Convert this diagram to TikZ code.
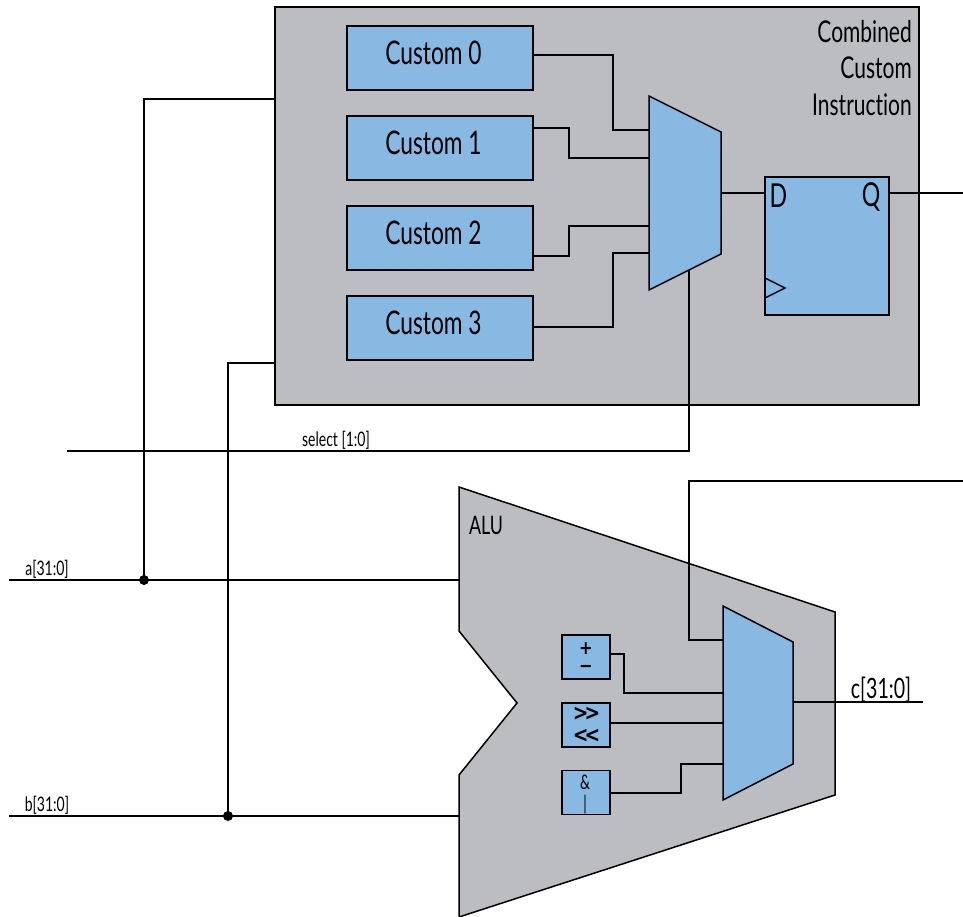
\documentclass[tikz,border=0pt]{standalone}
\usepackage{fontspec}
\setmainfont[FakeStretch=0.70,Ligatures=CommonOff]{Lato}
\newfontfamily\opsym[FakeStretch=0.85]{DejaVu Sans}
\definecolor{panelgray}{HTML}{BCBDC0}
\definecolor{partblue}{HTML}{88B9E3}
\tikzset{
  wire/.style={line width=1.5pt,black,line join=miter},
  panel/.style={draw=black,fill=panelgray,line width=1.5pt},
  part/.style={draw=black,fill=partblue,line width=1.5pt},
  custombox/.style={part,rectangle,minimum width=186pt,minimum height=64pt,inner sep=0pt,anchor=center},
  opbox/.style={part,rectangle,minimum width=48pt,minimum height=44pt,inner sep=0pt},
  lbl/.style={inner sep=0pt,font=\fontsize{30}{30}\selectfont},
  cust/.style={inner sep=0pt,font=\fontsize{32.5}{32.5}\selectfont},
  sml/.style={inner sep=0pt,font=\fontsize{20}{20}\selectfont},
  opmark/.style={inner sep=0pt,font=\opsym\bfseries\fontsize{22}{22}\selectfont},
  joint/.style={circle,fill=black,inner sep=0pt,minimum size=10pt}
}
\begin{document}
\begin{tikzpicture}[x=1pt,y=-1pt]
\useasboundingbox (0,0) rectangle (963,917);
% ports and free ends
\coordinate (gA) at (275,99);
\coordinate (gB) at (275,363);
\coordinate (m1a) at (649,130);
\coordinate (m1b) at (649,158);
\coordinate (m1c) at (649,226);
\coordinate (m1d) at (649,253);
\coordinate (m1out) at (721,193);
\coordinate (m1sel) at (689,270);
\coordinate (selStart) at (67,451);
\coordinate (qEnd) at (963,193);
\coordinate (aStart) at (9,580);
\coordinate (aEnd) at (459,580);
\coordinate (bStart) at (9,816);
\coordinate (bEnd) at (459,816);
\coordinate (m2a) at (723,640);
\coordinate (m2b) at (723,693);
\coordinate (m2c) at (723,723);
\coordinate (m2d) at (723,764);
\coordinate (m2out) at (793,702);
\coordinate (cEnd) at (923,702);
\coordinate (fbEnd) at (963,481);

% panels
\node[panel,rectangle,minimum width=644pt,minimum height=398pt,inner sep=0pt] (combined) at (597,206) {};
\draw[panel] (459,487) -- (835,612) -- (835,795) -- (459,917) -- (459,775) -- (517,703) -- (459,631) -- cycle;

% wires behind
\draw[wire] (selStart) -- (689,451) -- (m1sel);
\draw[wire] (aStart) -- (aEnd);
\draw[wire] (bStart) -- (bEnd);
\node[joint] (ja) at (144,580) {};
\node[joint] (jb) at (228,816) {};
\draw[wire] (gA) -- (ja.center |- gA) -- (ja.center);
\draw[wire] (gB) -- (jb.center |- gB) -- (jb.center);
\draw[wire] (fbEnd) -- (689,481) -- (689,640) -- (m2a);

% custom boxes
\node[custombox] (c0) at (440,58) {};
\node[custombox] (c1) at (440,148) {};
\node[custombox] (c2) at (440,238) {};
\node[custombox] (c3) at (440,328) {};
\node[cust] (t0) at (433.5,53) {Custom 0};
\node[cust] (t1) at (433.5,143) {Custom 1};
\node[cust] (t2) at (433.5,233) {Custom 2};
\node[cust] (t3) at (433.5,323) {Custom 3};

\draw[wire] (533,55) -- (613,55) -- (613,130) -- (m1a);
\draw[wire] (533,128) -- (569,128) -- (569,158) -- (m1b);
\draw[wire] (533,256) -- (569,256) -- (569,226) -- (m1c);
\draw[wire] (533,327) -- (613,327) -- (613,253) -- (m1d);

% mux 1
\draw[part] (649,96) -- (721,132) -- (721,254) -- (649,290) -- cycle;

% flip-flop
\node[part,rectangle,minimum width=124pt,minimum height=138pt,inner sep=0pt] (ff) at (827,246) {};
\draw[wire] (765,278) -- (785,288) -- (765,298);
\draw[wire] (m1out) -- (ff.west |- m1out);
\draw[wire] (ff.east |- qEnd) -- (qEnd);
\node[inner sep=0pt,font=\fontsize{33}{33}\selectfont] (d) at (778.5,196) {D};
\node[inner sep=0pt,font=\fontsize{33}{33}\selectfont] (q) at (871,197) {Q};

% titles
\node[lbl,anchor=east] (tt1) at (912,32) {Combined};
\node[lbl,anchor=east] (tt2) at (912,68) {Custom};
\node[lbl,anchor=east] (tt3) at (912,105) {Instruction};
\node[sml] (sel) at (336,440) {select [1:0]};
\node[sml] (la) at (47,569) {a[31:0]};
\node[sml] (lb) at (47,805) {b[31:0]};
\node[inner sep=0pt,font=\fontsize{25.5}{25.5}\selectfont] (alu) at (486,525) {ALU};
\node[inner sep=0pt,font=\fontsize{28}{28}\selectfont] (lc) at (881,690) {c[31:0]};

% ALU parts
\node[opbox] (add) at (586,657) {};
\node[opbox] (sh) at (586,725) {};
\node[opbox] (lg) at (586,792.5) {};
\node[inner sep=0pt,align=center,font=\opsym\bfseries\fontsize{19}{18}\selectfont] (pm) at (586,658) {+\\−};
\node[opmark] (s1) at (586.5,714) {{>}\kern-4pt{>}};
\node[opmark] (s2) at (586.5,736) {{<}\kern-4pt{<}};
\node[inner sep=0pt,font=\fontsize{20}{20}\selectfont] (l1) at (585,782) {\&};
\node[inner sep=0pt,font=\fontsize{20}{20}\selectfont] (l2) at (585,805) {|};

\draw[wire] (add.east |- 0,654) -- (624,654) -- (624,693) -- (m2b);
\draw[wire] (sh.east |- 0,723) -- (m2c);
\draw[wire] (lg.east |- 0,793) -- (681,793) -- (681,764) -- (m2d);
\draw[part] (723,606) -- (793,642) -- (793,764) -- (723,800) -- cycle;
\draw[wire] (m2out) -- (cEnd);
\end{tikzpicture}
\end{document}
